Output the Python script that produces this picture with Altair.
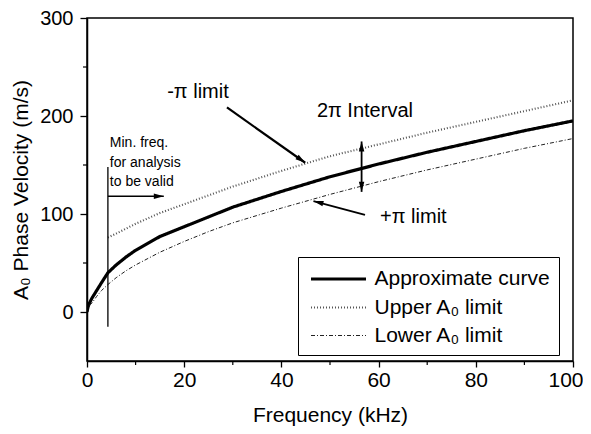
import altair as alt
import pandas as pd

FONT = "Liberation Sans"

# ---- curve data ----
approx_f = [0, 0.2, 0.5, 1, 2, 3, 4.3, 6, 8, 10, 15, 20, 25, 30, 40, 50, 60, 70, 80, 90, 100]
approx_v = [0, 5, 9, 14, 22, 30, 40, 48, 56, 63, 77, 87, 97, 107, 123, 138, 151, 163, 174, 185, 195]

upper_f = [4.3, 6, 8, 10, 15, 20, 25, 30, 40, 50, 60, 70, 80, 90, 100]
upper_v = [76, 80, 85, 90, 101, 110, 119, 128, 144, 159, 171, 183, 194, 205, 216]

lower_f = [0.5, 1, 2, 3, 4.3, 6, 8, 10, 15, 20, 25, 30, 40, 50, 60, 70, 80, 90, 100]
lower_v = [7, 9, 16, 22, 28, 35, 42, 48, 61, 72, 82, 91, 106, 120, 133, 145, 156, 167, 177]

series_names = ["Approximate curve", "Upper A\u2080 limit", "Lower A\u2080 limit"]

# ---- axes ----
x_ticks = [0, 20, 40, 60, 80, 100]
x_minor = [10, 30, 50, 70, 90]
y_ticks = [0, 100, 200, 300]
y_minor = [50, 150, 250]

# ---- annotations ----
ann_text = ["-\u03c0 limit", "Min. freq.", "for analysis", "to be valid", "2\u03c0 Interval", "+\u03c0 limit"]
ann_f = [16.5, 4.7, 4.7, 4.7, 47.3, 60.3]
ann_v = [225, 172, 152, 133, 205, 97]
ann_size = [20, 14, 14, 14, 20, 20]

# arrow segments: (f1, v1) -> (f2, v2)
seg_f1 = [28.8, 57.2, 4.3, 4.3, 56.5]
seg_v1 = [208.7, 99, 118, 148, 174]
seg_f2 = [44.9, 46.6, 15.8, 4.3, 56.5]
seg_v2 = [152.3, 113.2, 118, -15, 122.6]
seg_w = [2.2, 1.8, 1.5, 1.3, 1.8]

# arrow heads (tip position and direction, degrees clockwise from up)
head_f = [44.9, 46.6, 15.8, 56.5, 56.5]
head_v = [152.3, 113.2, 118, 174, 122.6]
head_angle = [125.7, 285, 90, 0, 180]

rows = []
for name, fs, vs in zip(series_names, [approx_f, upper_f, lower_f], [approx_v, upper_v, lower_v]):
    for i, (f, v) in enumerate(zip(fs, vs)):
        rows.append({"series": name, "f": f, "v": v, "order": i})
curves = pd.DataFrame(rows)

xscale = alt.Scale(domain=[0, 100], nice=False, zero=False)
yscale = alt.Scale(domain=[-50, 300], nice=False, zero=False)

leg = dict(title=None, orient="none", legendX=211, legendY=239)

lines = alt.Chart(curves).mark_line(clip=True).encode(
    x=alt.X("f:Q", scale=xscale,
            axis=alt.Axis(values=x_ticks, title="Frequency (kHz)", grid=False,
                          tickSize=6, labelPadding=2, labelFlush=False,
                          labelAlign={"condition": {"test": "datum.value === 100", "value": "right"},
                                      "value": "center"},
                          labelOffset={"condition": {"test": "datum.value === 100", "value": 10},
                                       "value": 0},
                          titleY=54, titleBaseline="middle",
                          labelFontSize=21)),
    y=alt.Y("v:Q", scale=yscale,
            axis=alt.Axis(values=y_ticks, title="A\u2080 Phase Velocity (m/s)", grid=False,
                          tickSize=7, labelPadding=7, labelFlush=False,
                          titleX=-66, titleBaseline="middle",
                          labelFontSize=20)),
    order="order:Q",
    color=alt.Color("series:N", sort=series_names,
                    scale=alt.Scale(domain=series_names, range=["#000000", "#555555", "#222222"]),
                    legend=alt.Legend(**leg)),
    strokeDash=alt.StrokeDash("series:N", sort=series_names,
                              scale=alt.Scale(domain=series_names, range=[[1, 0], [1, 2], [4, 2, 1, 2]]),
                              legend=alt.Legend(**leg)),
    strokeWidth=alt.StrokeWidth("series:N", sort=series_names,
                                scale=alt.Scale(domain=series_names, range=[3.2, 1, 1]),
                                legend=alt.Legend(**leg)),
)

xminor_df = pd.DataFrame({"f": x_minor})
yminor_df = pd.DataFrame({"v": y_minor})
xminor = alt.Chart(xminor_df).mark_rule(color="black", strokeWidth=1.2).encode(
    x="f:Q", y=alt.value(343), y2=alt.value(347))
yminor = alt.Chart(yminor_df).mark_rule(color="black", strokeWidth=1.2).encode(
    y="v:Q", x=alt.value(-4), x2=alt.value(0))

seg_df = pd.DataFrame({"f1": seg_f1, "v1": seg_v1, "f2": seg_f2, "v2": seg_v2, "w": seg_w})
segs = alt.Chart(seg_df).mark_rule(color="black").encode(
    x="f1:Q", y="v1:Q", x2="f2:Q", y2="v2:Q",
    strokeWidth=alt.StrokeWidth("w:Q", scale=None, legend=None))

head_df = pd.DataFrame({"f": head_f, "v": head_v, "a": head_angle})
heads = alt.Chart(head_df).mark_point(
    shape="M0,0L0.55,2L-0.55,2Z", filled=True, color="black", opacity=1, size=100, strokeWidth=0
).encode(x="f:Q", y="v:Q", angle=alt.Angle("a:Q", scale=None))

ann_df = pd.DataFrame({"t": ann_text, "f": ann_f, "v": ann_v, "s": ann_size})
texts = alt.Chart(ann_df).mark_text(align="left", baseline="middle", font=FONT, color="black").encode(
    x="f:Q", y="v:Q", text="t:N", size=alt.Size("s:Q", scale=None, legend=None))

chart = alt.layer(lines, xminor, yminor, segs, heads, texts).properties(
    width=486, height=343,
    autosize=alt.AutoSizeParams(type="none"),
    padding={"left": 79, "top": 10, "right": 10, "bottom": 65},
).configure_view(stroke="black", strokeWidth=1.5).configure_axis(
    domainColor="black", domainWidth=1.5, tickColor="black", tickWidth=1.3,
    labelFont=FONT, labelColor="black",
    titleFont=FONT, titleFontSize=21, titleColor="black", titleFontWeight="normal",
).configure_legend(
    labelFont=FONT, labelFontSize=21, labelColor="black", labelLimit=0,
    symbolType="M-2.5,0H2.5", symbolSize=484, symbolOffset=18.5, labelOffset=23,
    strokeColor="black", fillColor="white", padding=9, rowPadding=6,
    symbolStrokeColor="black",
)

chart.save("out.html", embed_options={"renderer": "svg", "actions": False})
